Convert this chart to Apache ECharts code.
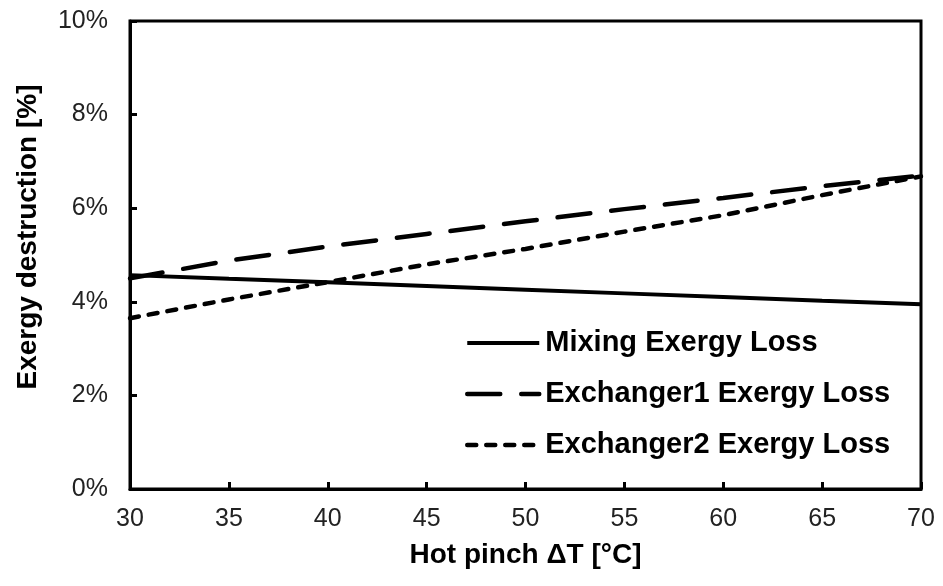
<!DOCTYPE html>
<html>
<head>
<meta charset="utf-8">
<script src="https://cdn.jsdelivr.net/npm/echarts@6/dist/echarts.min.js"></script>
<style>html,body{margin:0;padding:0;background:#fff}#c{width:943px;height:586px}</style>
</head>
<body>
<div id="c"></div>
<script>
var hotPinch = [30, 35, 40, 45, 50, 55, 60, 65, 70];
var mixingLoss = [4.57, 4.49, 4.42, 4.34, 4.26, 4.18, 4.10, 4.02, 3.95];
var exchanger1Loss = [4.50, 4.88, 5.18, 5.45, 5.72, 5.98, 6.22, 6.47, 6.70];
var exchanger2Loss = [3.65, 4.05, 4.42, 4.80, 5.13, 5.50, 5.85, 6.28, 6.68];
var seriesNames = ['Mixing Exergy Loss', 'Exchanger1 Exergy Loss', 'Exchanger2 Exergy Loss'];
var xName = 'Hot pinch \u0394T [\u00b0C]';
var yName = 'Exergy destruction [%]';

function pairs(ys) { return hotPinch.map(function (x, i) { return [x, ys[i]]; }); }

var chart = echarts.init(document.getElementById('c'), null, {renderer: 'canvas'});
var font = 'Arial, "Liberation Sans", sans-serif';
chart.setOption({
  animation: false,
  backgroundColor: '#fff',
  grid: {left: 130, right: 22, top: 21, bottom: 97, show: true, borderColor: '#000', borderWidth: 3, containLabel: false},
  legend: {
    left: 460, top: 323, orient: 'vertical', itemWidth: 72, itemHeight: 14, itemGap: 21,
    itemStyle: {opacity: 0},
    textStyle: {fontFamily: font, fontWeight: 'bold', fontSize: 29, color: '#000', lineHeight: 30, padding: [0, 0, 0, 1]},
    data: [
      {name: seriesNames[0], lineStyle: {width: 4}},
      {name: seriesNames[1], lineStyle: {width: 4.5}},
      {name: seriesNames[2], lineStyle: {width: 4.5}}
    ]
  },
  xAxis: {
    type: 'value', min: 30, max: 70, interval: 5,
    name: xName, nameLocation: 'middle', nameGap: 52,
    nameTextStyle: {fontFamily: font, fontWeight: 'bold', fontSize: 28, color: '#000'},
    axisLine: {show: true, lineStyle: {color: '#000', width: 3}},
    axisTick: {show: true, inside: true, length: 7, lineStyle: {color: '#000', width: 3}},
    axisLabel: {fontFamily: font, fontSize: 25, color: '#222', margin: 18},
    splitLine: {show: false}
  },
  yAxis: {
    type: 'value', min: 0, max: 10, interval: 2,
    name: yName, nameLocation: 'middle', nameGap: 88,
    nameTextStyle: {fontFamily: font, fontWeight: 'bold', fontSize: 28, color: '#000', padding: [0, 0, 0, 36]},
    axisLine: {show: true, lineStyle: {color: '#000', width: 3}},
    axisTick: {show: true, inside: true, length: 7, lineStyle: {color: '#000', width: 3}},
    axisLabel: {fontFamily: font, fontSize: 25, color: '#222', margin: 22, formatter: function (v) { return v + '%'; }},
    splitLine: {show: false}
  },
  series: [
    {name: seriesNames[0], type: 'line', data: pairs(mixingLoss), symbol: 'none', color: '#000',
     lineStyle: {color: '#000', width: 4, type: 'solid'}},
    {name: seriesNames[1], type: 'line', data: pairs(exchanger1Loss), symbol: 'none', color: '#000',
     lineStyle: {color: '#000', width: 4.5, type: [33, 21], cap: 'round'}},
    {name: seriesNames[2], type: 'line', data: pairs(exchanger2Loss), symbol: 'none', color: '#000',
     lineStyle: {color: '#000', width: 4.5, type: [9, 10], cap: 'round'}}
  ]
});
</script>
</body>
</html>
